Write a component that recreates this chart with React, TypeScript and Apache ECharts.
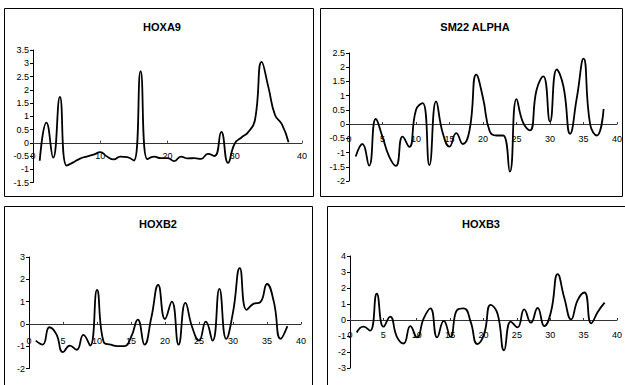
import React, { useEffect, useRef } from "react";
import * as echarts from "echarts";

const xValues = [1,2,3,4,5,6,7,8,9,10,11,12,13,14,15,16,17,18,19,20,21,22,23,24,25,26,27,28,29,30,31,32,33,34,35,36,37,38];

const titles = ["HOXA9", "SM22 ALPHA", "HOXB2", "HOXB3"];

const hoxa9 = [-0.68,0.76,-0.56,1.73,-0.86,-0.74,-0.6,-0.52,-0.45,-0.35,-0.52,-0.63,-0.52,-0.54,-0.67,2.7,-0.62,-0.52,-0.58,-0.58,-0.69,-0.52,-0.59,-0.58,-0.61,-0.42,-0.5,0.41,-0.76,-0.03,0.2,0.4,0.85,3.05,2.1,1.04,0.7,0.02];

const sm22alpha = [-1.14,-0.7,-1.46,0.18,-0.45,-1.14,-1.47,-0.44,-0.8,0.5,0.74,-1.44,0.8,-0.32,-0.79,-0.32,-0.7,-0.2,1.74,0.92,-0.25,-0.4,-0.4,-1.67,0.88,0.04,-0.22,1.21,1.68,0.09,1.92,1.33,-0.34,0.92,2.3,-0.02,-0.4,0.53];

const hoxb2 = [-0.75,-0.93,-0.15,-0.45,-1.27,-0.97,-1.16,-0.49,-0.97,1.52,-0.82,-0.93,-1.0,-1.0,-0.6,0.19,-0.93,0.3,1.75,0.22,1.0,-0.93,0.94,-0.15,-0.75,0.1,-0.75,1.57,-0.67,0.52,2.5,0.63,0.9,0.97,1.79,1.0,-0.67,-0.1];

const hoxb3 = [-0.78,-0.42,-0.67,1.64,-0.42,0.21,-1.05,-1.47,-0.38,-1.09,0.1,0.73,-1.09,-0.06,-1.05,0.63,0.73,-0.1,-1.5,-0.9,0.94,0.42,-1.89,-0.1,-0.46,0.67,-0.17,0.75,-0.38,0.52,2.87,1.36,0.04,1.26,1.72,-0.21,0.52,1.09];

const seriesValues = [hoxa9, sm22alpha, hoxb2, hoxb3];

const xIntervals = [10, 5, 5, 5];
const yMins = [-1.5, -2, -2, -3];
const yMaxs = [3.5, 2.5, 3, 4];
const yIntervals = [0.5, 0.5, 1, 1];

const grids = [
  { left: 33, top: 50, width: 269, height: 132.5 },
  { left: 349, top: 53, width: 268, height: 128 },
  { left: 29, top: 257, width: 272, height: 111.5 },
  { left: 350, top: 256, width: 268, height: 112 },
];

const xLabelMargins = [9, 10, 13, 10];

const frames = [
  { x: 4.5, y: 8.5, width: 309, height: 188 },
  { x: 320.5, y: 8.5, width: 302, height: 188 },
  { x: 4.5, y: 206.5, width: 308, height: 190 },
  { x: 327.5, y: 206.5, width: 305, height: 190 },
];

const titlePos = [
  { x: 162, y: 27 },
  { x: 475, y: 27 },
  { x: 158, y: 224 },
  { x: 481, y: 224 },
];

const FONT = '"Liberation Sans", Arial, sans-serif';

export default function App() {
  const ref = useRef<HTMLDivElement>(null);
  useEffect(() => {
    if (!ref.current) return;
    const chart = echarts.init(ref.current, undefined, { renderer: "svg" });
    // zero-line grids: same horizontal extent, bottom at value 0 of each panel
    const zeroGrids = grids.map((g, i) => ({
      left: g.left,
      width: g.width,
      top: g.top,
      height: (g.height * yMaxs[i]) / (yMaxs[i] - yMins[i]),
    }));
    const n = grids.length;
    const option: any = {
      animation: false,
      backgroundColor: "#fff",
      grid: [...grids, ...zeroGrids].map((g) => ({ ...g, containLabel: false })),
      xAxis: [
        ...grids.map((_, i) => ({
          type: "value",
          gridIndex: i,
          min: 0,
          max: 40,
          interval: xIntervals[i],
          show: false,
        })),
        ...grids.map((_, i) => ({
          type: "value",
          gridIndex: n + i,
          min: 0,
          max: 40,
          interval: xIntervals[i],
          position: "bottom",
          axisLine: { onZero: false, lineStyle: { color: "#333", width: 1 } },
          axisTick: { show: true, inside: true, length: 2, lineStyle: { color: "#333" } },
          axisLabel: { color: "#000", fontSize: 9, fontFamily: FONT, margin: xLabelMargins[i] },
          splitLine: { show: false },
        })),
      ],
      yAxis: [
        ...grids.map((_, i) => ({
          type: "value",
          gridIndex: i,
          min: yMins[i],
          max: yMaxs[i],
          interval: yIntervals[i],
          axisLine: { show: true, lineStyle: { color: "#000", width: 1 } },
          axisTick: { show: true, length: 3, lineStyle: { color: "#000" } },
          axisLabel: { color: "#000", fontSize: 9, fontFamily: FONT, margin: 4 },
          splitLine: { show: false },
        })),
        ...grids.map((_, i) => ({
          type: "value",
          gridIndex: n + i,
          min: 0,
          max: 1,
          show: false,
        })),
      ],
      series: seriesValues.map((vals, i) => ({
        type: "line",
        name: titles[i],
        xAxisIndex: i,
        yAxisIndex: i,
        data: xValues.map((x, k) => [x, vals[k]]),
        smooth: 0.5,
        showSymbol: false,
        symbol: "none",
        lineStyle: { color: "#000", width: 1.8 },
        z: 3,
      })),
      graphic: [
        ...frames.map((f) => ({
          type: "rect",
          shape: f,
          silent: true,
          z: -1,
          style: { fill: "none", stroke: "#000", lineWidth: 1 },
        })),
        ...titles.map((t, i) => ({
          type: "text",
          x: titlePos[i].x,
          y: titlePos[i].y,
          silent: true,
          style: {
            text: t,
            fill: "#000",
            font: `bold 11px ${FONT}`,
            align: "center",
            verticalAlign: "middle",
          },
        })),
      ],
    };
    chart.setOption(option);
    return () => chart.dispose();
  }, []);
  return (
    <div
      ref={ref}
      style={{ position: "absolute", left: 0, top: 0, width: 625, height: 385 }}
    />
  );
}
